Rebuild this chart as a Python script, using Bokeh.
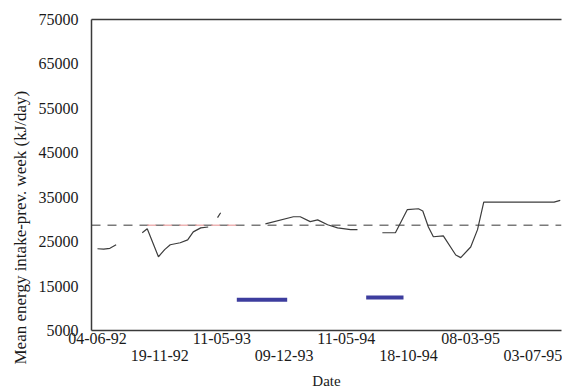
import numpy as np
from bokeh.plotting import figure
from bokeh.models import LinearAxis, FixedTicker, Range1d, NumeralTickFormatter, Title
from bokeh.embed import file_html
from bokeh.resources import INLINE

nan = np.nan

# Category index (weeks) and mean energy intake (kJ/day); NaN = gap in record
week = [0, 1, 2, 3, nan,
        7.2, 8.0, 9.8, 10.8, 11.7, 13.3, 14.5, 15.4, 16.6, 17.8, nan,
        19.3, 19.8, nan,
        27.0, 31.5, 32.6, 34.2, 35.4, 37.0, 38.6, 40.7, 41.8, nan,
        45.8, 47.9, 49.8, 51.6, 52.3, 53.2, 54.0, 55.6, 57.6, 58.4, 60.0,
        61.1, 62.1, 64.8, 73.4, 74.4]
intake = [23400, 23300, 23500, 24300, nan,
          27000, 27900, 21600, 23200, 24300, 24750, 25400, 27200, 28100, 28300, nan,
          30400, 31500, nan,
          29000, 30600, 30600, 29500, 29900, 28800, 28100, 27700, 27700, nan,
          27000, 27000, 32200, 32400, 31900, 28300, 26100, 26300, 22000, 21400, 23800,
          27700, 33900, 33900, 33900, 34300]

# reference level (dashed)
ref_level = 28700
ref_red_start, ref_red_end = 8.0, 23.0

# blue bars (periods)
bar_start = [22.4, 43.2]
bar_end = [30.5, 49.2]
bar_level = [11900, 12400]

# x tick labels
tick_pos_row1 = [0, 20, 40, 60]
tick_lab_row1 = ["04-06-92", "11-05-93", "11-05-94", "08-03-95"]
tick_pos_row2 = [10, 30, 50, 70]
tick_lab_row2 = ["19-11-92", "09-12-93", "18-10-94", "03-07-95"]

y_ticks = [5000, 15000, 25000, 35000, 45000, 55000, 65000, 75000]
y_title = "Mean energy intake-prev. week (kJ/day)"

FONT = "Liberation Serif"
FS = "16px"
AX_COL = "#3a3a3a"
TXT_COL = "#1a1a1a"

X0, X1 = -0.96, 74.6
p = figure(width=562, height=391, x_range=Range1d(X0, X1), y_range=Range1d(5000, 75000),
           output_backend="svg", toolbar_location=None,
           min_border_left=91, min_border_right=1, min_border_top=19, min_border_bottom=60,
           x_axis_location="below")
p.outline_line_color = None
p.xgrid.grid_line_color = None
p.ygrid.grid_line_color = None
p.background_fill_color = "white"
p.border_fill_color = "white"

# y axis
ya = p.yaxis[0]
ya.ticker = FixedTicker(ticks=y_ticks)
ya.formatter = NumeralTickFormatter(format="0")
ya.major_label_text_font = FONT
ya.major_label_text_font_size = FS
ya.major_label_text_color = TXT_COL
ya.major_tick_out = 0
ya.major_tick_in = 0
ya.minor_tick_line_color = None
ya.major_label_standoff = 13
ya.axis_line_color = AX_COL
ya.axis_line_width = 1.5

# y axis title as a side title, starting below the frame bottom as in the original
p.add_layout(Title(text=y_title, align="left", offset=-34, text_font=FONT,
                   text_font_size="17px", text_font_style="normal", text_color=TXT_COL,
                   standoff=12), "left")

# x axis, first row
xa = p.xaxis[0]
xa.ticker = FixedTicker(ticks=tick_pos_row1)
xa.major_label_overrides = {t: l for t, l in zip(tick_pos_row1, tick_lab_row1)}
xa.major_label_text_font = FONT
xa.major_label_text_font_size = FS
xa.major_label_text_color = TXT_COL
xa.major_tick_out = 0
xa.major_tick_in = 0
xa.minor_tick_line_color = None
xa.major_label_standoff = 2
xa.axis_line_color = AX_COL
xa.axis_line_width = 1.5

# x axis, second row (staggered labels)
xb = LinearAxis(ticker=FixedTicker(ticks=tick_pos_row2),
                major_label_overrides={t: l for t, l in zip(tick_pos_row2, tick_lab_row2)})
xb.axis_line_color = None
xb.major_tick_line_color = None
xb.minor_tick_line_color = None
xb.major_tick_out = 0
xb.major_tick_in = 0
xb.major_label_standoff = 3
xb.major_label_text_font = FONT
xb.major_label_text_font_size = FS
xb.major_label_text_color = TXT_COL
xb.axis_label = "Date"
xb.axis_label_text_font = FONT
xb.axis_label_text_font_style = "normal"
xb.axis_label_text_font_size = "15px"
xb.axis_label_text_color = TXT_COL
xb.axis_label_standoff = 9
p.add_layout(xb, "below")

# top border line
xt = LinearAxis(ticker=FixedTicker(ticks=[]))
xt.major_label_text_font_size = "0px"
xt.major_tick_out = 0
xt.major_tick_in = 0
xt.minor_tick_line_color = None
xt.axis_line_color = AX_COL
xt.axis_line_width = 1.5
p.add_layout(xt, "above")

# reference dashed line
p.line(x=[X0, X1], y=[ref_level, ref_level], line_color="#7a7a7a", line_width=1.5,
       line_dash="9 7")
p.line(x=[ref_red_start, ref_red_end], y=[ref_level, ref_level], line_color="#e8a0a0",
       line_width=1.5, line_dash="9 7", line_alpha=0.8)

# intake line
p.line(x=week, y=intake, line_color="#3c3c3c", line_width=1.2)

# blue bars
p.segment(x0=bar_start, x1=bar_end, y0=bar_level, y1=bar_level, line_color="#3d3d9e",
          line_width=4)

open("out.html", "w").write(file_html(p, INLINE))
